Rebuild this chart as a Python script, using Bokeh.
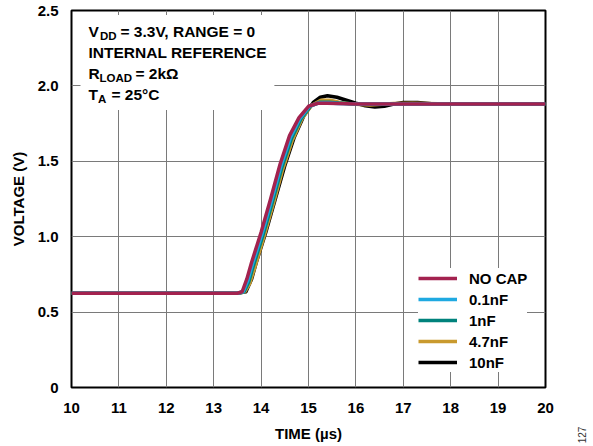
import math
from bokeh.plotting import figure
from bokeh.models import (FixedTicker, Legend, LegendItem, Label, Div)
from bokeh.layouts import row
from bokeh.embed import file_html
from bokeh.resources import INLINE

# ---------------- data ----------------
t_no_cap = [10, 13.0, 13.5, 13.6, 13.7, 13.8, 14.0, 14.2, 14.4, 14.6, 14.8, 15.0, 15.2, 15.4, 15.6, 16.0, 17.0, 18.0, 19.0, 20.0]
v_no_cap = [0.625, 0.625, 0.625, 0.635, 0.72, 0.83, 1.03, 1.25, 1.48, 1.67, 1.79, 1.865, 1.885, 1.885, 1.883, 1.88, 1.88, 1.88, 1.88, 1.88]

t_01nf = [10, 13.0, 13.5, 13.62, 13.72, 13.82, 14.02, 14.22, 14.42, 14.62, 14.82, 15.02, 15.22, 15.42, 15.62, 16.0, 17.0, 18.0, 19.0, 20.0]
v_01nf = [0.625, 0.625, 0.625, 0.635, 0.71, 0.82, 1.02, 1.24, 1.47, 1.66, 1.785, 1.865, 1.887, 1.887, 1.884, 1.88, 1.88, 1.88, 1.88, 1.88]

t_1nf = [10, 13.0, 13.5, 13.64, 13.74, 13.84, 14.04, 14.24, 14.44, 14.64, 14.84, 15.04, 15.24, 15.44, 15.64, 16.0, 17.0, 18.0, 19.0, 20.0]
v_1nf = [0.625, 0.625, 0.625, 0.635, 0.70, 0.81, 1.01, 1.23, 1.46, 1.65, 1.78, 1.865, 1.892, 1.892, 1.886, 1.88, 1.88, 1.88, 1.88, 1.88]

t_47nf = [10, 13.0, 13.5, 13.66, 13.76, 13.86, 14.06, 14.26, 14.46, 14.66, 14.86, 15.06, 15.26, 15.46, 15.66, 15.9, 16.3, 16.8, 17.2, 18.0, 19.0, 20.0]
v_47nf = [0.625, 0.625, 0.625, 0.635, 0.69, 0.79, 1.00, 1.22, 1.45, 1.64, 1.78, 1.87, 1.905, 1.905, 1.89, 1.88, 1.873, 1.883, 1.885, 1.88, 1.88, 1.88]

t_10nf = [10, 13.0, 13.5, 13.68, 13.8, 13.9, 14.1, 14.3, 14.5, 14.7, 14.9, 15.1, 15.25, 15.4, 15.6, 15.8, 16.0, 16.2, 16.4, 16.6, 16.8, 17.0, 17.3, 17.6, 18.0, 19.0, 20.0]
v_10nf = [0.625, 0.625, 0.625, 0.635, 0.72, 0.83, 1.03, 1.25, 1.47, 1.66, 1.80, 1.89, 1.925, 1.935, 1.925, 1.905, 1.885, 1.868, 1.86, 1.865, 1.88, 1.89, 1.89, 1.882, 1.88, 1.88, 1.88]

series_names = ["NO CAP", "0.1nF", "1nF", "4.7nF", "10nF"]
series_colors = ["#A3224F", "#1FA9E1", "#00827C", "#C99A2E", "#000000"]

x_ticks = [10, 11, 12, 13, 14, 15, 16, 17, 18, 19, 20]
y_ticks = [0, 0.5, 1.0, 1.5, 2.0, 2.5]
y_tick_labels = ["0", "0.5", "1.0", "1.5", "2.0", "2.5"]

FONT = "Liberation Sans"

# ---------------- figure ----------------
p = figure(width=560, height=444, x_range=(10, 20), y_range=(0, 2.5),
           output_backend="svg", toolbar_location=None,
           min_border_left=71, min_border_right=15, min_border_top=10, min_border_bottom=56)

p.outline_line_color = "black"
p.outline_line_width = 2
p.background_fill_color = "white"
p.border_fill_color = "white"

p.xaxis.ticker = FixedTicker(ticks=x_ticks)
p.yaxis.ticker = FixedTicker(ticks=y_ticks)
p.yaxis.major_label_overrides = {float(v): s for v, s in zip(y_ticks, y_tick_labels)}
p.yaxis.major_label_overrides.update({0: "0"})

for ax in (p.xaxis[0], p.yaxis[0]):
    ax.axis_line_color = None
    ax.major_tick_line_color = None
    ax.minor_tick_line_color = None
    ax.major_label_text_font = FONT
    ax.major_label_text_font_style = "bold"
    ax.major_label_text_font_size = "15px"
    ax.major_label_text_color = "black"
    ax.axis_label_text_font = FONT
    ax.axis_label_text_font_style = "bold"
    ax.axis_label_text_font_size = "15px"
    ax.axis_label_text_color = "black"

p.xaxis.axis_label = "TIME (µs)"
p.yaxis.axis_label = "VOLTAGE (V)"
p.xaxis.major_label_standoff = 9
p.yaxis.major_label_standoff = 7
p.xaxis.axis_label_standoff = 9
p.yaxis.axis_label_standoff = 8

p.xgrid.grid_line_color = "#7a7a7a"
p.ygrid.grid_line_color = "#7a7a7a"
p.xgrid.grid_line_width = 1
p.ygrid.grid_line_width = 1

# white box behind annotation text
p.quad(left=10.19, right=14.28, bottom=1.84, top=2.47, fill_color="white", line_color=None)

# ---------------- curves (drawn bottom to top) ----------------
data = {
    "NO CAP": (t_no_cap, v_no_cap),
    "0.1nF": (t_01nf, v_01nf),
    "1nF": (t_1nf, v_1nf),
    "4.7nF": (t_47nf, v_47nf),
    "10nF": (t_10nf, v_10nf),
}
renderers = {}
for name, color in reversed(list(zip(series_names, series_colors))):
    xs, ys = data[name]
    renderers[name] = p.line(xs, ys, line_color=color, line_width=3.5, line_join="round")

items = [LegendItem(label=n, renderers=[renderers[n]]) for n in series_names]
legend = Legend(items=items, location=(347, 15),
                glyph_width=39, glyph_height=20, label_height=20, spacing=1,
                label_standoff=12, padding=6, margin=0,
                label_text_font=FONT, label_text_font_style="bold",
                label_text_font_size="15px", label_text_color="black",
                border_line_color=None, background_fill_color="white",
                background_fill_alpha=1.0)
p.add_layout(legend, "center")

# ---------------- annotation text ----------------
X0, X1, PX0, PX1 = 10.0, 20.0, 71.0, 545.0
Y0, Y1, PY0, PY1 = 0.0, 2.5, 388.0, 10.0
def dx(px):
    return X0 + (px - PX0) * (X1 - X0) / (PX1 - PX0)
def dy(py):
    return Y0 + (py - PY0) * (Y1 - Y0) / (PY1 - PY0)

def lab(text, px, py, size):
    p.add_layout(Label(x=dx(px), y=dy(py), text=text, text_font=FONT,
                       text_font_style="bold", text_font_size=size,
                       text_color="black", text_baseline="middle"))

big, small = "15.5px", "11.5px"
lab("V", 88, 31.5, big); lab("DD", 99.5, 35.5, small); lab("= 3.3V, RANGE = 0", 120, 31.5, big)
lab("INTERNAL REFERENCE", 88, 52.5, big)
lab("R", 88, 73.5, big); lab("LOAD", 99, 77.5, small); lab("= 2kΩ", 135, 73.5, big)
lab("T", 88, 94.5, big); lab("A", 97.5, 98.5, small); lab("= 25°C", 111, 94.5, big)

# figure id, rotated, at the far right
fig_id = Div(text=("<div style=\"margin-top:424px;margin-left:6px;width:24px;"
                   "text-align:center;transform:rotate(-90deg);font-family:'Liberation Sans';"
                   "font-size:10px;line-height:12px;color:#333333\">127</div>"),
             width=30, height=444)

layout = row(p, fig_id)
open("out.html", "w").write(file_html(layout, INLINE))
